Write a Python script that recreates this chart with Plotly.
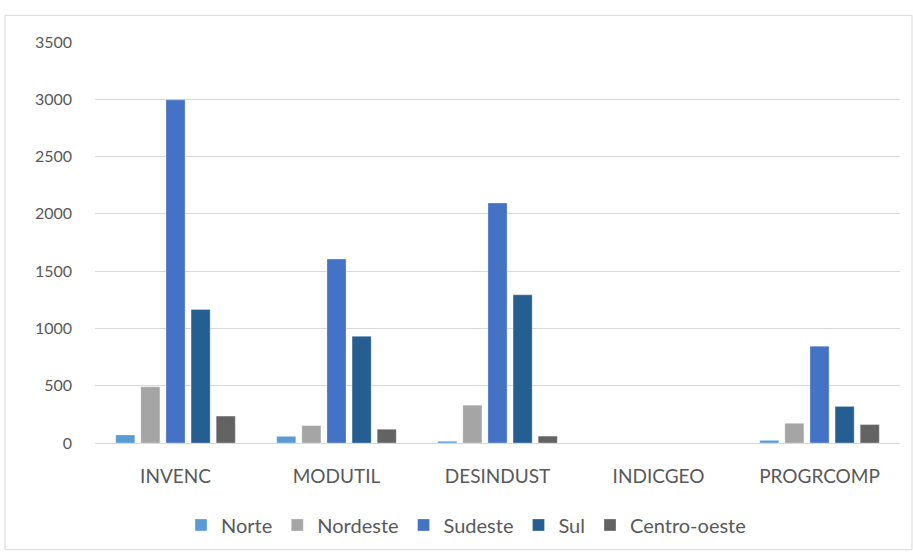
import plotly.graph_objects as go

categories = ["INVENC", "MODUTIL", "DESINDUST", "INDICGEO", "PROGRCOMP"]
norte = [70, 58, 15, 0, 23]
nordeste = [490, 152, 330, 0, 172]
sudeste = [2995, 1605, 2095, 0, 845]
sul = [1165, 931, 1293, 0, 319]
centro_oeste = [235, 120, 60, 0, 161]

series = [
    ("Norte", norte, "#5B9BD5"),
    ("Nordeste", nordeste, "#A5A5A5"),
    ("Sudeste", sudeste, "#4472C4"),
    ("Sul", sul, "#255E91"),
    ("Centro-oeste", centro_oeste, "#636363"),
]

fig = go.Figure()
for name, vals, color in series:
    fig.add_trace(go.Bar(
        x=categories, y=vals, name=name,
        marker=dict(color=color, line=dict(color="rgba(255,255,255,0.6)", width=0.5)),
    ))

W, H = 913, 557
L, R, T, B = 95, 13, 42, 109
pw = W - L - R
ph = H - T - B

fam = "Lato, Calibri, sans-serif"
font = dict(family=fam, size=16, color="#595959")

fig.update_layout(
    width=W, height=H,
    margin=dict(l=L, r=R, t=T, b=B),
    paper_bgcolor="white", plot_bgcolor="white",
    barmode="group", bargap=0.22, bargroupgap=0.24,
    font=font,
    showlegend=True,
    legend=dict(
        orientation="h", xanchor="center", yanchor="middle",
        x=(466 - L) / pw, y=(H - B - 531) / ph,
        font=dict(family=fam, size=20, color="#595959"),
        itemwidth=30, traceorder="normal", tracegroupgap=0,
    ),
    xaxis=dict(
        showgrid=False, showline=True, linecolor="#D9D9D9", linewidth=1,
        ticks="", ticklabelstandoff=16, tickfont=dict(size=19),
    ),
    yaxis=dict(
        range=[0, 3500], dtick=500, showgrid=True, gridcolor="#D9D9D9", gridwidth=1,
        zeroline=False, showline=False, ticks="", ticklabelstandoff=22,
        tickfont=dict(size=16),
    ),
)

fig.add_shape(
    type="rect", xref="paper", yref="paper",
    x0=(5 - L) / pw, x1=(912 - L) / pw,
    y0=(H - B - 556) / ph, y1=(H - B - 15) / ph,
    line=dict(color="#D9D9D9", width=1), fillcolor="rgba(0,0,0,0)", layer="below",
)

fig.write_html("out.html")
